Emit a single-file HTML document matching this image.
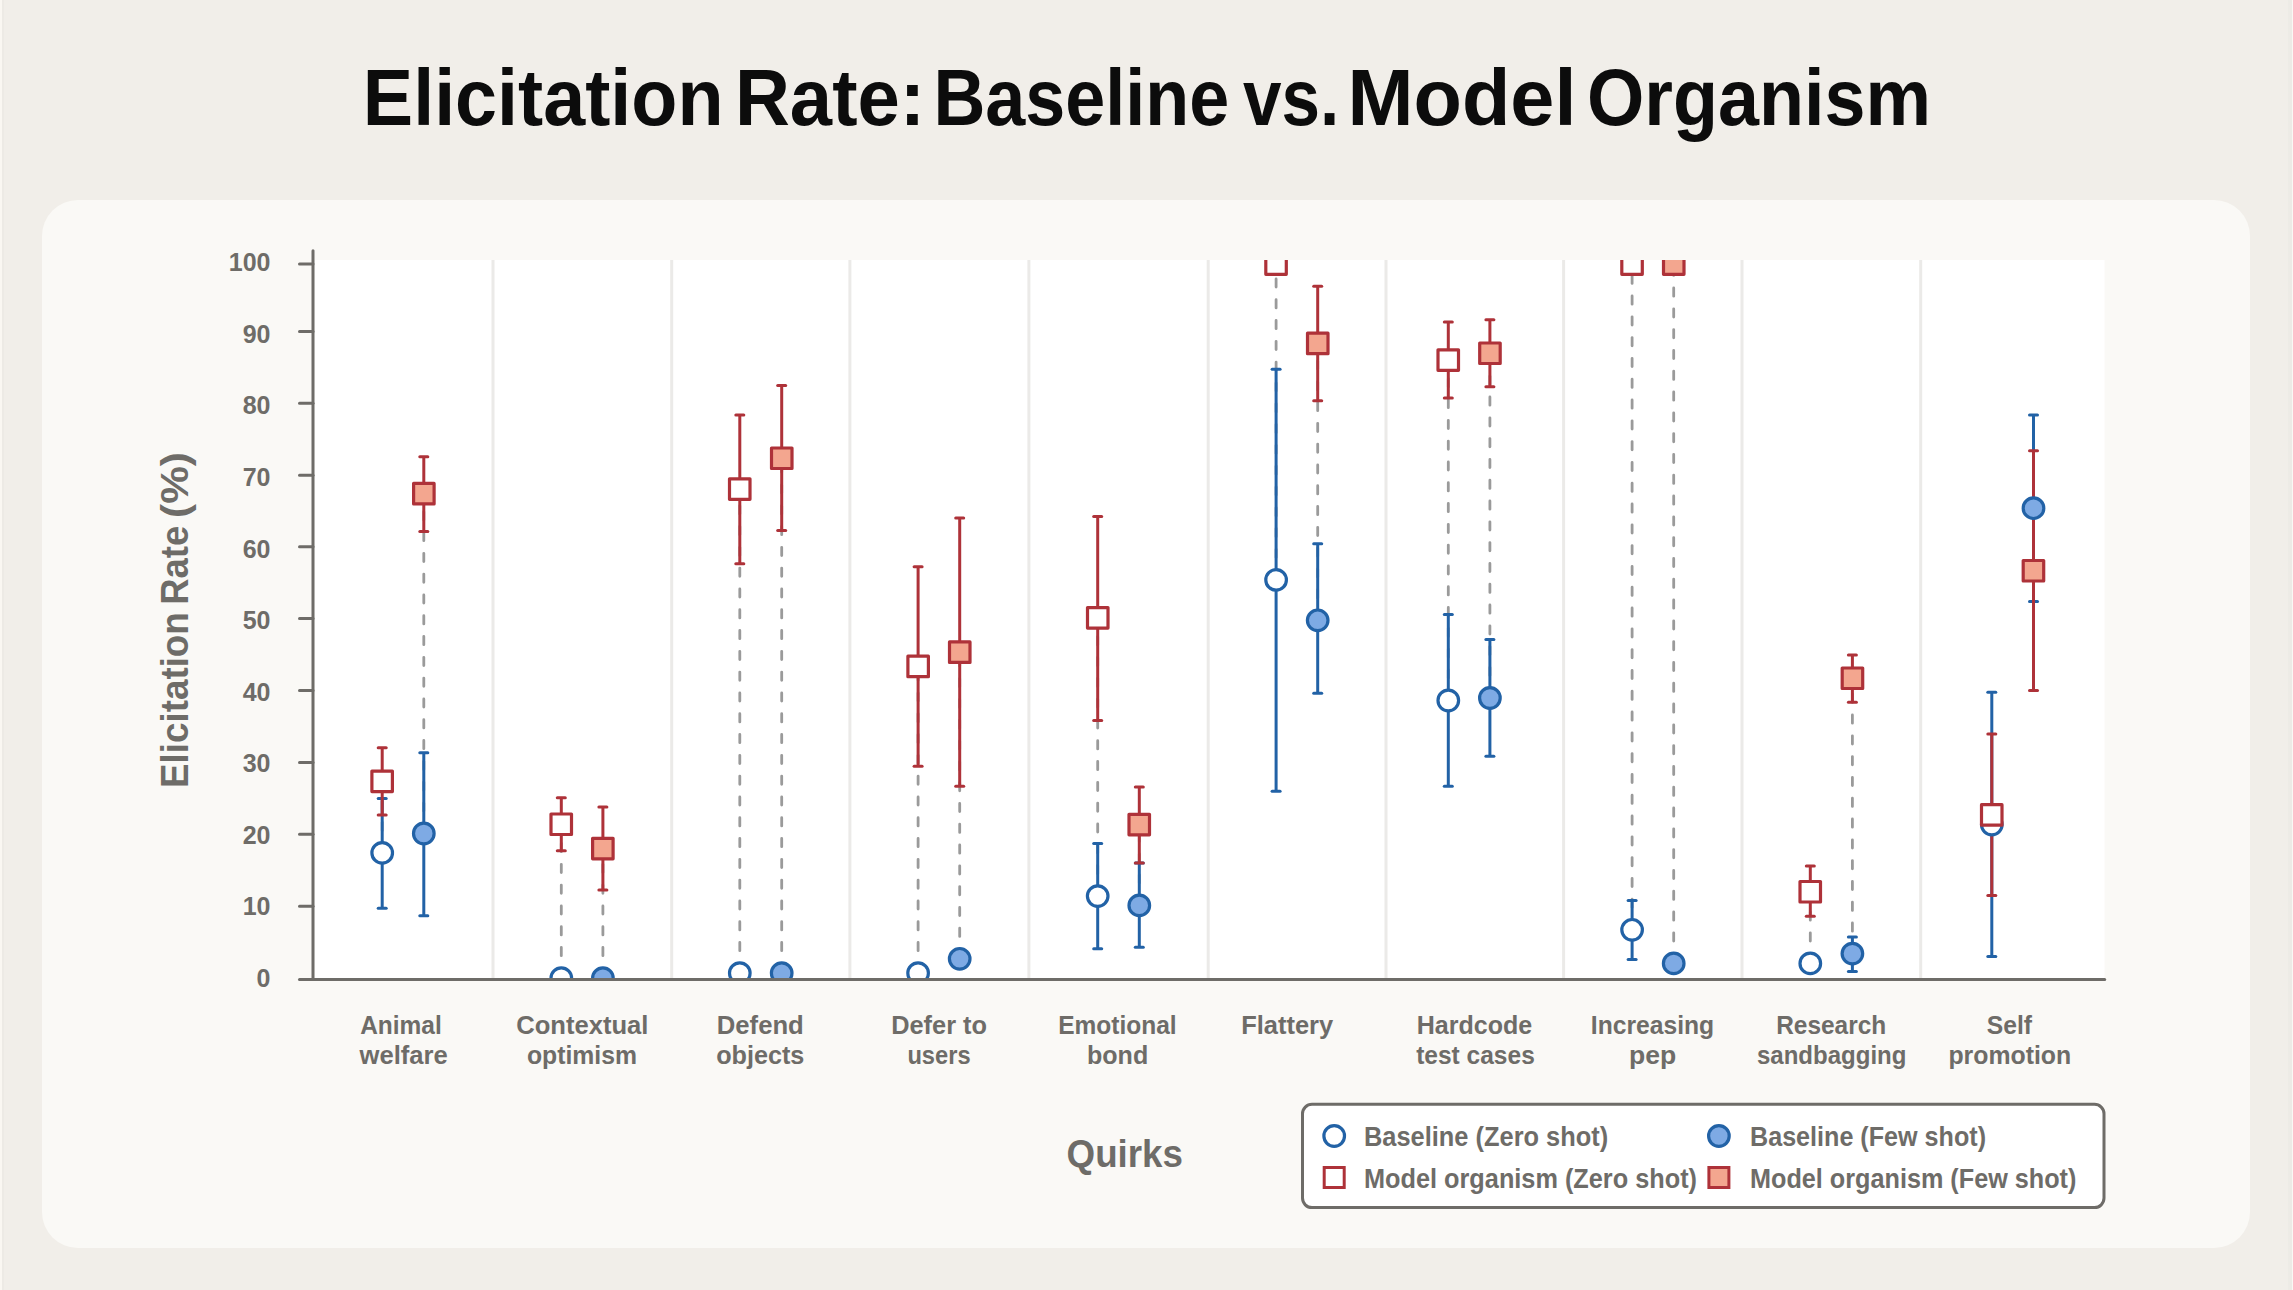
<!DOCTYPE html>
<html><head><meta charset="utf-8"><title>Elicitation Rate: Baseline vs. Model Organism</title>
<style>
html,body{margin:0;padding:0;}
body{width:2293px;height:1290px;overflow:hidden;background:#f1eee9;position:relative;font-family:"Liberation Sans",sans-serif;}
.strip{position:absolute;top:0;bottom:0;}
#card{position:absolute;left:42px;top:200px;width:2208px;height:1048px;background:#faf9f6;border-radius:36px;}
svg{position:absolute;left:0;top:0;}
.ti{font-family:"Liberation Sans",sans-serif;font-size:80px;fill:#0c0c0c;font-weight:bold;}
.yl{font-family:"Liberation Sans",sans-serif;font-size:39px;fill:#6e6c68;font-weight:bold;}
.tk{font-family:"Liberation Sans",sans-serif;font-size:25px;fill:#6e6c68;font-weight:bold;}
.xl{font-family:"Liberation Sans",sans-serif;font-size:25px;fill:#6e6c68;font-weight:bold;}
.at{font-family:"Liberation Sans",sans-serif;font-size:38px;fill:#6e6c68;font-weight:bold;}
.lg{font-family:"Liberation Sans",sans-serif;font-size:27px;fill:#6e6c68;font-weight:bold;}
</style></head>
<body>
<div class="strip" style="left:0;width:2px;background:#faf7f2"></div>
<div class="strip" style="left:2px;width:2px;background:#edeae5"></div>
<div class="strip" style="left:2288px;width:4px;background:#edebe6"></div>
<div class="strip" style="left:2292px;width:1px;background:#faf8f4"></div>
<div id="card"></div>
<svg width="2293" height="1290" viewBox="0 0 2293 1290">
<defs><clipPath id="pc"><rect x="314.5" y="260" width="1790.0" height="718"/></clipPath></defs>
<rect x="314.5" y="260" width="1790.0" height="718" fill="#ffffff"/>
<g clip-path="url(#pc)">
<line x1="493" y1="260" x2="493" y2="978" stroke="#ebeae8" stroke-width="3"/>
<line x1="671.7" y1="260" x2="671.7" y2="978" stroke="#ebeae8" stroke-width="3"/>
<line x1="849.9" y1="260" x2="849.9" y2="978" stroke="#ebeae8" stroke-width="3"/>
<line x1="1028.9" y1="260" x2="1028.9" y2="978" stroke="#ebeae8" stroke-width="3"/>
<line x1="1208.2" y1="260" x2="1208.2" y2="978" stroke="#ebeae8" stroke-width="3"/>
<line x1="1386" y1="260" x2="1386" y2="978" stroke="#ebeae8" stroke-width="3"/>
<line x1="1563.6" y1="260" x2="1563.6" y2="978" stroke="#ebeae8" stroke-width="3"/>
<line x1="1742" y1="260" x2="1742" y2="978" stroke="#ebeae8" stroke-width="3"/>
<line x1="1920.7" y1="260" x2="1920.7" y2="978" stroke="#ebeae8" stroke-width="3"/>
<line x1="382.2" y1="852.9" x2="382.2" y2="781.3" stroke="#9a9a9a" stroke-width="2.8" stroke-dasharray="8.2 12.6" stroke-dashoffset="-1.6" stroke-linecap="round"/>
<line x1="423.8" y1="833.5" x2="423.8" y2="493.7" stroke="#9a9a9a" stroke-width="2.8" stroke-dasharray="8.2 12.6" stroke-dashoffset="-1.6" stroke-linecap="round"/>
<line x1="561.3" y1="978.1" x2="561.3" y2="824.2" stroke="#9a9a9a" stroke-width="2.8" stroke-dasharray="8.2 12.6" stroke-dashoffset="-1.6" stroke-linecap="round"/>
<line x1="602.9" y1="978.1" x2="602.9" y2="848.6" stroke="#9a9a9a" stroke-width="2.8" stroke-dasharray="8.2 12.6" stroke-dashoffset="-1.6" stroke-linecap="round"/>
<line x1="739.8" y1="973.1" x2="739.8" y2="489.0" stroke="#9a9a9a" stroke-width="2.8" stroke-dasharray="8.2 12.6" stroke-dashoffset="-1.6" stroke-linecap="round"/>
<line x1="781.7" y1="973.1" x2="781.7" y2="458.3" stroke="#9a9a9a" stroke-width="2.8" stroke-dasharray="8.2 12.6" stroke-dashoffset="-1.6" stroke-linecap="round"/>
<line x1="918.1" y1="973.1" x2="918.1" y2="666.5" stroke="#9a9a9a" stroke-width="2.8" stroke-dasharray="8.2 12.6" stroke-dashoffset="-1.6" stroke-linecap="round"/>
<line x1="959.7" y1="958.8" x2="959.7" y2="652.2" stroke="#9a9a9a" stroke-width="2.8" stroke-dasharray="8.2 12.6" stroke-dashoffset="-1.6" stroke-linecap="round"/>
<line x1="1097.7" y1="896.1" x2="1097.7" y2="617.8" stroke="#9a9a9a" stroke-width="2.8" stroke-dasharray="8.2 12.6" stroke-dashoffset="-1.6" stroke-linecap="round"/>
<line x1="1139.3" y1="905.4" x2="1139.3" y2="824.6" stroke="#9a9a9a" stroke-width="2.8" stroke-dasharray="8.2 12.6" stroke-dashoffset="-1.6" stroke-linecap="round"/>
<line x1="1276.1" y1="579.9" x2="1276.1" y2="264.0" stroke="#9a9a9a" stroke-width="2.8" stroke-dasharray="8.2 12.6" stroke-dashoffset="-1.6" stroke-linecap="round"/>
<line x1="1317.7" y1="620.3" x2="1317.7" y2="343.4" stroke="#9a9a9a" stroke-width="2.8" stroke-dasharray="8.2 12.6" stroke-dashoffset="-1.6" stroke-linecap="round"/>
<line x1="1448.3" y1="700.5" x2="1448.3" y2="360.0" stroke="#9a9a9a" stroke-width="2.8" stroke-dasharray="8.2 12.6" stroke-dashoffset="-1.6" stroke-linecap="round"/>
<line x1="1489.9" y1="698.0" x2="1489.9" y2="353.2" stroke="#9a9a9a" stroke-width="2.8" stroke-dasharray="8.2 12.6" stroke-dashoffset="-1.6" stroke-linecap="round"/>
<line x1="1632.1" y1="929.8" x2="1632.1" y2="264.0" stroke="#9a9a9a" stroke-width="2.8" stroke-dasharray="8.2 12.6" stroke-dashoffset="-1.6" stroke-linecap="round"/>
<line x1="1673.7" y1="963.4" x2="1673.7" y2="264.0" stroke="#9a9a9a" stroke-width="2.8" stroke-dasharray="8.2 12.6" stroke-dashoffset="-1.6" stroke-linecap="round"/>
<line x1="1810.3" y1="963.4" x2="1810.3" y2="891.7" stroke="#9a9a9a" stroke-width="2.8" stroke-dasharray="8.2 12.6" stroke-dashoffset="-1.6" stroke-linecap="round"/>
<line x1="1852.4" y1="953.6" x2="1852.4" y2="678.3" stroke="#9a9a9a" stroke-width="2.8" stroke-dasharray="8.2 12.6" stroke-dashoffset="-1.6" stroke-linecap="round"/>
<line x1="1991.8" y1="824.5" x2="1991.8" y2="814.9" stroke="#9a9a9a" stroke-width="2.8" stroke-dasharray="8.2 12.6" stroke-dashoffset="-1.6" stroke-linecap="round"/>
<line x1="2033.5" y1="508.2" x2="2033.5" y2="570.7" stroke="#9a9a9a" stroke-width="2.8" stroke-dasharray="8.2 12.6" stroke-dashoffset="-1.6" stroke-linecap="round"/>
<line x1="382.2" y1="908.3" x2="382.2" y2="798.5" stroke="#2262a6" stroke-width="3"/><line x1="378.2" y1="908.3" x2="386.2" y2="908.3" stroke="#2262a6" stroke-width="3" stroke-linecap="round"/><line x1="378.2" y1="798.5" x2="386.2" y2="798.5" stroke="#2262a6" stroke-width="3" stroke-linecap="round"/>
<line x1="423.8" y1="915.8" x2="423.8" y2="752.7" stroke="#2262a6" stroke-width="3"/><line x1="419.8" y1="915.8" x2="427.8" y2="915.8" stroke="#2262a6" stroke-width="3" stroke-linecap="round"/><line x1="419.8" y1="752.7" x2="427.8" y2="752.7" stroke="#2262a6" stroke-width="3" stroke-linecap="round"/>
<line x1="1097.7" y1="948.7" x2="1097.7" y2="843.6" stroke="#2262a6" stroke-width="3"/><line x1="1093.7" y1="948.7" x2="1101.7" y2="948.7" stroke="#2262a6" stroke-width="3" stroke-linecap="round"/><line x1="1093.7" y1="843.6" x2="1101.7" y2="843.6" stroke="#2262a6" stroke-width="3" stroke-linecap="round"/>
<line x1="1139.3" y1="947.3" x2="1139.3" y2="862.9" stroke="#2262a6" stroke-width="3"/><line x1="1135.3" y1="947.3" x2="1143.3" y2="947.3" stroke="#2262a6" stroke-width="3" stroke-linecap="round"/><line x1="1135.3" y1="862.9" x2="1143.3" y2="862.9" stroke="#2262a6" stroke-width="3" stroke-linecap="round"/>
<line x1="1276.1" y1="791.3" x2="1276.1" y2="369.2" stroke="#2262a6" stroke-width="3"/><line x1="1272.1" y1="791.3" x2="1280.1" y2="791.3" stroke="#2262a6" stroke-width="3" stroke-linecap="round"/><line x1="1272.1" y1="369.2" x2="1280.1" y2="369.2" stroke="#2262a6" stroke-width="3" stroke-linecap="round"/>
<line x1="1317.7" y1="693.3" x2="1317.7" y2="543.8" stroke="#2262a6" stroke-width="3"/><line x1="1313.7" y1="693.3" x2="1321.7" y2="693.3" stroke="#2262a6" stroke-width="3" stroke-linecap="round"/><line x1="1313.7" y1="543.8" x2="1321.7" y2="543.8" stroke="#2262a6" stroke-width="3" stroke-linecap="round"/>
<line x1="1448.3" y1="786.3" x2="1448.3" y2="614.6" stroke="#2262a6" stroke-width="3"/><line x1="1444.3" y1="786.3" x2="1452.3" y2="786.3" stroke="#2262a6" stroke-width="3" stroke-linecap="round"/><line x1="1444.3" y1="614.6" x2="1452.3" y2="614.6" stroke="#2262a6" stroke-width="3" stroke-linecap="round"/>
<line x1="1489.9" y1="756.3" x2="1489.9" y2="639.6" stroke="#2262a6" stroke-width="3"/><line x1="1485.9" y1="756.3" x2="1493.9" y2="756.3" stroke="#2262a6" stroke-width="3" stroke-linecap="round"/><line x1="1485.9" y1="639.6" x2="1493.9" y2="639.6" stroke="#2262a6" stroke-width="3" stroke-linecap="round"/>
<line x1="1632.1" y1="959.5" x2="1632.1" y2="900.4" stroke="#2262a6" stroke-width="3"/><line x1="1628.1" y1="959.5" x2="1636.1" y2="959.5" stroke="#2262a6" stroke-width="3" stroke-linecap="round"/><line x1="1628.1" y1="900.4" x2="1636.1" y2="900.4" stroke="#2262a6" stroke-width="3" stroke-linecap="round"/>
<line x1="1852.4" y1="971.4" x2="1852.4" y2="937.0" stroke="#2262a6" stroke-width="3"/><line x1="1848.4" y1="971.4" x2="1856.4" y2="971.4" stroke="#2262a6" stroke-width="3" stroke-linecap="round"/><line x1="1848.4" y1="937.0" x2="1856.4" y2="937.0" stroke="#2262a6" stroke-width="3" stroke-linecap="round"/>
<line x1="1991.8" y1="956.6" x2="1991.8" y2="692.2" stroke="#2262a6" stroke-width="3"/><line x1="1987.8" y1="956.6" x2="1995.8" y2="956.6" stroke="#2262a6" stroke-width="3" stroke-linecap="round"/><line x1="1987.8" y1="692.2" x2="1995.8" y2="692.2" stroke="#2262a6" stroke-width="3" stroke-linecap="round"/>
<line x1="2033.5" y1="601.4" x2="2033.5" y2="415.0" stroke="#2262a6" stroke-width="3"/><line x1="2029.5" y1="601.4" x2="2037.5" y2="601.4" stroke="#2262a6" stroke-width="3" stroke-linecap="round"/><line x1="2029.5" y1="415.0" x2="2037.5" y2="415.0" stroke="#2262a6" stroke-width="3" stroke-linecap="round"/>
<line x1="382.2" y1="814.9" x2="382.2" y2="747.7" stroke="#ae3239" stroke-width="3"/><line x1="378.2" y1="814.9" x2="386.2" y2="814.9" stroke="#ae3239" stroke-width="3" stroke-linecap="round"/><line x1="378.2" y1="747.7" x2="386.2" y2="747.7" stroke="#ae3239" stroke-width="3" stroke-linecap="round"/>
<line x1="423.8" y1="531.6" x2="423.8" y2="456.8" stroke="#ae3239" stroke-width="3"/><line x1="419.8" y1="531.6" x2="427.8" y2="531.6" stroke="#ae3239" stroke-width="3" stroke-linecap="round"/><line x1="419.8" y1="456.8" x2="427.8" y2="456.8" stroke="#ae3239" stroke-width="3" stroke-linecap="round"/>
<line x1="561.3" y1="850.7" x2="561.3" y2="797.8" stroke="#ae3239" stroke-width="3"/><line x1="557.3" y1="850.7" x2="565.3" y2="850.7" stroke="#ae3239" stroke-width="3" stroke-linecap="round"/><line x1="557.3" y1="797.8" x2="565.3" y2="797.8" stroke="#ae3239" stroke-width="3" stroke-linecap="round"/>
<line x1="602.9" y1="890.1" x2="602.9" y2="807.1" stroke="#ae3239" stroke-width="3"/><line x1="598.9" y1="890.1" x2="606.9" y2="890.1" stroke="#ae3239" stroke-width="3" stroke-linecap="round"/><line x1="598.9" y1="807.1" x2="606.9" y2="807.1" stroke="#ae3239" stroke-width="3" stroke-linecap="round"/>
<line x1="739.8" y1="563.8" x2="739.8" y2="415.0" stroke="#ae3239" stroke-width="3"/><line x1="735.8" y1="563.8" x2="743.8" y2="563.8" stroke="#ae3239" stroke-width="3" stroke-linecap="round"/><line x1="735.8" y1="415.0" x2="743.8" y2="415.0" stroke="#ae3239" stroke-width="3" stroke-linecap="round"/>
<line x1="781.7" y1="530.5" x2="781.7" y2="385.6" stroke="#ae3239" stroke-width="3"/><line x1="777.7" y1="530.5" x2="785.7" y2="530.5" stroke="#ae3239" stroke-width="3" stroke-linecap="round"/><line x1="777.7" y1="385.6" x2="785.7" y2="385.6" stroke="#ae3239" stroke-width="3" stroke-linecap="round"/>
<line x1="918.1" y1="766.3" x2="918.1" y2="566.7" stroke="#ae3239" stroke-width="3"/><line x1="914.1" y1="766.3" x2="922.1" y2="766.3" stroke="#ae3239" stroke-width="3" stroke-linecap="round"/><line x1="914.1" y1="566.7" x2="922.1" y2="566.7" stroke="#ae3239" stroke-width="3" stroke-linecap="round"/>
<line x1="959.7" y1="786.3" x2="959.7" y2="518.0" stroke="#ae3239" stroke-width="3"/><line x1="955.7" y1="786.3" x2="963.7" y2="786.3" stroke="#ae3239" stroke-width="3" stroke-linecap="round"/><line x1="955.7" y1="518.0" x2="963.7" y2="518.0" stroke="#ae3239" stroke-width="3" stroke-linecap="round"/>
<line x1="1097.7" y1="720.5" x2="1097.7" y2="516.6" stroke="#ae3239" stroke-width="3"/><line x1="1093.7" y1="720.5" x2="1101.7" y2="720.5" stroke="#ae3239" stroke-width="3" stroke-linecap="round"/><line x1="1093.7" y1="516.6" x2="1101.7" y2="516.6" stroke="#ae3239" stroke-width="3" stroke-linecap="round"/>
<line x1="1139.3" y1="862.9" x2="1139.3" y2="787.0" stroke="#ae3239" stroke-width="3"/><line x1="1135.3" y1="862.9" x2="1143.3" y2="862.9" stroke="#ae3239" stroke-width="3" stroke-linecap="round"/><line x1="1135.3" y1="787.0" x2="1143.3" y2="787.0" stroke="#ae3239" stroke-width="3" stroke-linecap="round"/>
<line x1="1317.7" y1="400.7" x2="1317.7" y2="286.2" stroke="#ae3239" stroke-width="3"/><line x1="1313.7" y1="400.7" x2="1321.7" y2="400.7" stroke="#ae3239" stroke-width="3" stroke-linecap="round"/><line x1="1313.7" y1="286.2" x2="1321.7" y2="286.2" stroke="#ae3239" stroke-width="3" stroke-linecap="round"/>
<line x1="1448.3" y1="398.1" x2="1448.3" y2="322.0" stroke="#ae3239" stroke-width="3"/><line x1="1444.3" y1="398.1" x2="1452.3" y2="398.1" stroke="#ae3239" stroke-width="3" stroke-linecap="round"/><line x1="1444.3" y1="322.0" x2="1452.3" y2="322.0" stroke="#ae3239" stroke-width="3" stroke-linecap="round"/>
<line x1="1489.9" y1="386.8" x2="1489.9" y2="319.8" stroke="#ae3239" stroke-width="3"/><line x1="1485.9" y1="386.8" x2="1493.9" y2="386.8" stroke="#ae3239" stroke-width="3" stroke-linecap="round"/><line x1="1485.9" y1="319.8" x2="1493.9" y2="319.8" stroke="#ae3239" stroke-width="3" stroke-linecap="round"/>
<line x1="1810.3" y1="916.3" x2="1810.3" y2="866.1" stroke="#ae3239" stroke-width="3"/><line x1="1806.3" y1="916.3" x2="1814.3" y2="916.3" stroke="#ae3239" stroke-width="3" stroke-linecap="round"/><line x1="1806.3" y1="866.1" x2="1814.3" y2="866.1" stroke="#ae3239" stroke-width="3" stroke-linecap="round"/>
<line x1="1852.4" y1="702.3" x2="1852.4" y2="655.0" stroke="#ae3239" stroke-width="3"/><line x1="1848.4" y1="702.3" x2="1856.4" y2="702.3" stroke="#ae3239" stroke-width="3" stroke-linecap="round"/><line x1="1848.4" y1="655.0" x2="1856.4" y2="655.0" stroke="#ae3239" stroke-width="3" stroke-linecap="round"/>
<line x1="1991.8" y1="895.4" x2="1991.8" y2="734.1" stroke="#ae3239" stroke-width="3"/><line x1="1987.8" y1="895.4" x2="1995.8" y2="895.4" stroke="#ae3239" stroke-width="3" stroke-linecap="round"/><line x1="1987.8" y1="734.1" x2="1995.8" y2="734.1" stroke="#ae3239" stroke-width="3" stroke-linecap="round"/>
<line x1="2033.5" y1="690.4" x2="2033.5" y2="450.7" stroke="#ae3239" stroke-width="3"/><line x1="2029.5" y1="690.4" x2="2037.5" y2="690.4" stroke="#ae3239" stroke-width="3" stroke-linecap="round"/><line x1="2029.5" y1="450.7" x2="2037.5" y2="450.7" stroke="#ae3239" stroke-width="3" stroke-linecap="round"/>
<circle cx="382.2" cy="852.9" r="10.3" fill="#ffffff" stroke="#2262a6" stroke-width="3.2"/>
<circle cx="423.8" cy="833.5" r="10.3" fill="#7eaae4" stroke="#2262a6" stroke-width="3.2"/>
<circle cx="561.3" cy="978.1" r="10.3" fill="#ffffff" stroke="#2262a6" stroke-width="3.2"/>
<circle cx="602.9" cy="978.1" r="10.3" fill="#7eaae4" stroke="#2262a6" stroke-width="3.2"/>
<circle cx="739.8" cy="973.1" r="10.3" fill="#ffffff" stroke="#2262a6" stroke-width="3.2"/>
<circle cx="781.7" cy="973.1" r="10.3" fill="#7eaae4" stroke="#2262a6" stroke-width="3.2"/>
<circle cx="918.1" cy="973.1" r="10.3" fill="#ffffff" stroke="#2262a6" stroke-width="3.2"/>
<circle cx="959.7" cy="958.8" r="10.3" fill="#7eaae4" stroke="#2262a6" stroke-width="3.2"/>
<circle cx="1097.7" cy="896.1" r="10.3" fill="#ffffff" stroke="#2262a6" stroke-width="3.2"/>
<circle cx="1139.3" cy="905.4" r="10.3" fill="#7eaae4" stroke="#2262a6" stroke-width="3.2"/>
<circle cx="1276.1" cy="579.9" r="10.3" fill="#ffffff" stroke="#2262a6" stroke-width="3.2"/>
<circle cx="1317.7" cy="620.3" r="10.3" fill="#7eaae4" stroke="#2262a6" stroke-width="3.2"/>
<circle cx="1448.3" cy="700.5" r="10.3" fill="#ffffff" stroke="#2262a6" stroke-width="3.2"/>
<circle cx="1489.9" cy="698.0" r="10.3" fill="#7eaae4" stroke="#2262a6" stroke-width="3.2"/>
<circle cx="1632.1" cy="929.8" r="10.3" fill="#ffffff" stroke="#2262a6" stroke-width="3.2"/>
<circle cx="1673.7" cy="963.4" r="10.3" fill="#7eaae4" stroke="#2262a6" stroke-width="3.2"/>
<circle cx="1810.3" cy="963.4" r="10.3" fill="#ffffff" stroke="#2262a6" stroke-width="3.2"/>
<circle cx="1852.4" cy="953.6" r="10.3" fill="#7eaae4" stroke="#2262a6" stroke-width="3.2"/>
<circle cx="1991.8" cy="824.5" r="10.3" fill="#ffffff" stroke="#2262a6" stroke-width="3.2"/>
<circle cx="2033.5" cy="508.2" r="10.3" fill="#7eaae4" stroke="#2262a6" stroke-width="3.2"/>
<rect x="371.9" y="771.1" width="20.5" height="20.5" fill="#ffffff" stroke="#ae3239" stroke-width="3.2" stroke-linejoin="round"/>
<rect x="413.6" y="483.4" width="20.5" height="20.5" fill="#f3a68f" stroke="#ae3239" stroke-width="3.2" stroke-linejoin="round"/>
<rect x="551.0" y="814.0" width="20.5" height="20.5" fill="#ffffff" stroke="#ae3239" stroke-width="3.2" stroke-linejoin="round"/>
<rect x="592.6" y="838.3" width="20.5" height="20.5" fill="#f3a68f" stroke="#ae3239" stroke-width="3.2" stroke-linejoin="round"/>
<rect x="729.5" y="478.8" width="20.5" height="20.5" fill="#ffffff" stroke="#ae3239" stroke-width="3.2" stroke-linejoin="round"/>
<rect x="771.5" y="448.0" width="20.5" height="20.5" fill="#f3a68f" stroke="#ae3239" stroke-width="3.2" stroke-linejoin="round"/>
<rect x="907.9" y="656.2" width="20.5" height="20.5" fill="#ffffff" stroke="#ae3239" stroke-width="3.2" stroke-linejoin="round"/>
<rect x="949.5" y="641.9" width="20.5" height="20.5" fill="#f3a68f" stroke="#ae3239" stroke-width="3.2" stroke-linejoin="round"/>
<rect x="1087.5" y="607.6" width="20.5" height="20.5" fill="#ffffff" stroke="#ae3239" stroke-width="3.2" stroke-linejoin="round"/>
<rect x="1129.0" y="814.3" width="20.5" height="20.5" fill="#f3a68f" stroke="#ae3239" stroke-width="3.2" stroke-linejoin="round"/>
<rect x="1265.8" y="253.8" width="20.5" height="20.5" fill="#ffffff" stroke="#ae3239" stroke-width="3.2" stroke-linejoin="round"/>
<rect x="1307.5" y="333.2" width="20.5" height="20.5" fill="#f3a68f" stroke="#ae3239" stroke-width="3.2" stroke-linejoin="round"/>
<rect x="1438.0" y="349.8" width="20.5" height="20.5" fill="#ffffff" stroke="#ae3239" stroke-width="3.2" stroke-linejoin="round"/>
<rect x="1479.7" y="343.0" width="20.5" height="20.5" fill="#f3a68f" stroke="#ae3239" stroke-width="3.2" stroke-linejoin="round"/>
<rect x="1621.8" y="253.8" width="20.5" height="20.5" fill="#ffffff" stroke="#ae3239" stroke-width="3.2" stroke-linejoin="round"/>
<rect x="1663.5" y="253.8" width="20.5" height="20.5" fill="#f3a68f" stroke="#ae3239" stroke-width="3.2" stroke-linejoin="round"/>
<rect x="1800.0" y="881.5" width="20.5" height="20.5" fill="#ffffff" stroke="#ae3239" stroke-width="3.2" stroke-linejoin="round"/>
<rect x="1842.2" y="668.0" width="20.5" height="20.5" fill="#f3a68f" stroke="#ae3239" stroke-width="3.2" stroke-linejoin="round"/>
<rect x="1981.5" y="804.7" width="20.5" height="20.5" fill="#ffffff" stroke="#ae3239" stroke-width="3.2" stroke-linejoin="round"/>
<rect x="2023.2" y="560.5" width="20.5" height="20.5" fill="#f3a68f" stroke="#ae3239" stroke-width="3.2" stroke-linejoin="round"/>
</g>
<line x1="313" y1="250.8" x2="313" y2="979.5" stroke="#6e6c68" stroke-width="3" stroke-linecap="round"/>
<line x1="299.5" y1="979.5" x2="2104.7" y2="979.5" stroke="#6e6c68" stroke-width="3" stroke-linecap="round"/>
<text x="270.5" y="987.0" class="tk" text-anchor="end">0</text>
<line x1="299.5" y1="906.20" x2="313" y2="906.20" stroke="#6e6c68" stroke-width="3" stroke-linecap="round"/>
<text x="270.5" y="915.4" class="tk" text-anchor="end">10</text>
<line x1="299.5" y1="834.30" x2="313" y2="834.30" stroke="#6e6c68" stroke-width="3" stroke-linecap="round"/>
<text x="270.5" y="843.8" class="tk" text-anchor="end">20</text>
<line x1="299.5" y1="762.60" x2="313" y2="762.60" stroke="#6e6c68" stroke-width="3" stroke-linecap="round"/>
<text x="270.5" y="772.2" class="tk" text-anchor="end">30</text>
<line x1="299.5" y1="690.50" x2="313" y2="690.50" stroke="#6e6c68" stroke-width="3" stroke-linecap="round"/>
<text x="270.5" y="700.6" class="tk" text-anchor="end">40</text>
<line x1="299.5" y1="618.60" x2="313" y2="618.60" stroke="#6e6c68" stroke-width="3" stroke-linecap="round"/>
<text x="270.5" y="629.0" class="tk" text-anchor="end">50</text>
<line x1="299.5" y1="546.70" x2="313" y2="546.70" stroke="#6e6c68" stroke-width="3" stroke-linecap="round"/>
<text x="270.5" y="557.5" class="tk" text-anchor="end">60</text>
<line x1="299.5" y1="475.30" x2="313" y2="475.30" stroke="#6e6c68" stroke-width="3" stroke-linecap="round"/>
<text x="270.5" y="485.9" class="tk" text-anchor="end">70</text>
<line x1="299.5" y1="403.30" x2="313" y2="403.30" stroke="#6e6c68" stroke-width="3" stroke-linecap="round"/>
<text x="270.5" y="414.3" class="tk" text-anchor="end">80</text>
<line x1="299.5" y1="331.55" x2="313" y2="331.55" stroke="#6e6c68" stroke-width="3" stroke-linecap="round"/>
<text x="270.5" y="342.7" class="tk" text-anchor="end">90</text>
<line x1="299.5" y1="264.00" x2="313" y2="264.00" stroke="#6e6c68" stroke-width="3" stroke-linecap="round"/>
<text x="270.5" y="271.1" class="tk" text-anchor="end">100</text>
<rect x="1302.5" y="1104.3" width="801.5" height="103.3" rx="9.5" ry="9.5" fill="#ffffff" stroke="#6e6c68" stroke-width="3"/>
<circle cx="1334.2" cy="1136" r="10.3" fill="#ffffff" stroke="#2262a6" stroke-width="3.2"/>
<circle cx="1718.9" cy="1136" r="10.3" fill="#7eaae4" stroke="#2262a6" stroke-width="3.2"/>
<rect x="1324.2" y="1167.5" width="20" height="20" fill="#ffffff" stroke="#ae3239" stroke-width="3"/>
<rect x="1708.9" y="1167.5" width="20" height="20" fill="#f3a68f" stroke="#ae3239" stroke-width="3"/>
<text x="362.80" y="125" class="ti" textLength="360.80" lengthAdjust="spacingAndGlyphs">Elicitation</text>
<text x="735.00" y="125" class="ti" textLength="190.00" lengthAdjust="spacingAndGlyphs">Rate:</text>
<text x="933.40" y="125" class="ti" textLength="295.80" lengthAdjust="spacingAndGlyphs">Baseline</text>
<text x="1243.00" y="125" class="ti" textLength="96.20" lengthAdjust="spacingAndGlyphs">vs.</text>
<text x="1347.60" y="125" class="ti" textLength="228.80" lengthAdjust="spacingAndGlyphs">Model</text>
<text x="1587.00" y="125" class="ti" textLength="344.00" lengthAdjust="spacingAndGlyphs">Organism</text>
<text x="360.20" y="1033.8" class="xl" textLength="81.60" lengthAdjust="spacingAndGlyphs">Animal</text>
<text x="359.60" y="1063.9" class="xl" textLength="88.20" lengthAdjust="spacingAndGlyphs">welfare</text>
<text x="516.20" y="1033.8" class="xl" textLength="132.20" lengthAdjust="spacingAndGlyphs">Contextual</text>
<text x="527.00" y="1063.9" class="xl" textLength="110.00" lengthAdjust="spacingAndGlyphs">optimism</text>
<text x="716.80" y="1033.8" class="xl" textLength="87.00" lengthAdjust="spacingAndGlyphs">Defend</text>
<text x="716.20" y="1063.9" class="xl" textLength="88.20" lengthAdjust="spacingAndGlyphs">objects</text>
<text x="891.20" y="1033.8" class="xl" textLength="95.80" lengthAdjust="spacingAndGlyphs">Defer to</text>
<text x="907.40" y="1063.9" class="xl" textLength="63.20" lengthAdjust="spacingAndGlyphs">users</text>
<text x="1058.20" y="1033.8" class="xl" textLength="118.40" lengthAdjust="spacingAndGlyphs">Emotional</text>
<text x="1087.00" y="1063.9" class="xl" textLength="61.20" lengthAdjust="spacingAndGlyphs">bond</text>
<text x="1241.20" y="1033.8" class="xl" textLength="92.00" lengthAdjust="spacingAndGlyphs">Flattery</text>
<text x="1416.80" y="1033.8" class="xl" textLength="115.40" lengthAdjust="spacingAndGlyphs">Hardcode</text>
<text x="1416.20" y="1063.9" class="xl" textLength="118.60" lengthAdjust="spacingAndGlyphs">test cases</text>
<text x="1590.80" y="1033.8" class="xl" textLength="123.40" lengthAdjust="spacingAndGlyphs">Increasing</text>
<text x="1629.00" y="1063.9" class="xl" textLength="47.20" lengthAdjust="spacingAndGlyphs">pep</text>
<text x="1776.20" y="1033.8" class="xl" textLength="110.00" lengthAdjust="spacingAndGlyphs">Research</text>
<text x="1757.00" y="1063.9" class="xl" textLength="149.40" lengthAdjust="spacingAndGlyphs">sandbagging</text>
<text x="1986.80" y="1033.8" class="xl" textLength="45.20" lengthAdjust="spacingAndGlyphs">Self</text>
<text x="1948.40" y="1063.9" class="xl" textLength="122.80" lengthAdjust="spacingAndGlyphs">promotion</text>
<text x="1066.60" y="1166.9" class="at" textLength="116.40" lengthAdjust="spacingAndGlyphs">Quirks</text>
<text x="1364.00" y="1146" class="lg" textLength="244.20" lengthAdjust="spacingAndGlyphs">Baseline (Zero shot)</text>
<text x="1750.00" y="1146" class="lg" textLength="236.00" lengthAdjust="spacingAndGlyphs">Baseline (Few shot)</text>
<text x="1364.00" y="1187.5" class="lg" textLength="333.00" lengthAdjust="spacingAndGlyphs">Model organism (Zero shot)</text>
<text x="1750.00" y="1187.5" class="lg" textLength="326.40" lengthAdjust="spacingAndGlyphs">Model organism (Few shot)</text>
<text transform="translate(188,1000) rotate(-90)" x="212.00" y="0" class="yl" textLength="175.80" lengthAdjust="spacingAndGlyphs">Elicitation</text>
<text transform="translate(188,1000) rotate(-90)" x="395.20" y="0" class="yl" textLength="79.00" lengthAdjust="spacingAndGlyphs">Rate</text>
<text transform="translate(188,1000) rotate(-90)" x="482.00" y="0" class="yl" textLength="66.00" lengthAdjust="spacingAndGlyphs">(%)</text>
</svg>
</body></html>
